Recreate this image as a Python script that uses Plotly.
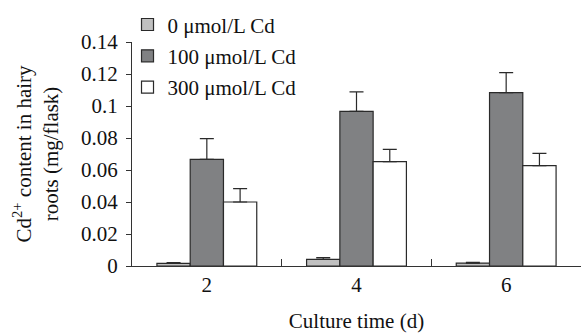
import plotly.graph_objects as go

categories = ["2", "4", "6"]
series_names = ["0 μmol/L Cd", "100 μmol/L Cd", "300 μmol/L Cd"]
values_0 = [0.0017, 0.0042, 0.0018]
values_100 = [0.0667, 0.0967, 0.1083]
values_300 = [0.0400, 0.0652, 0.0627]
err_0 = [0.0005, 0.0010, 0.0005]
err_100 = [0.0129, 0.0121, 0.0125]
err_300 = [0.0084, 0.0077, 0.0077]
y_ticks = [0, 0.02, 0.04, 0.06, 0.08, 0.1, 0.12, 0.14]
y_ticklabels = ["0", "0.02", "0.04", "0.06", "0.08", "0.1", "0.12", "0.14"]

colors = ["#c0c0c0", "#808183", "#ffffff"]
font_family = "Liberation Serif, Times New Roman, serif"
FS = 21

fig = go.Figure()
for i, (name, vals, errs) in enumerate(zip(series_names,
                                           [values_0, values_100, values_300],
                                           [err_0, err_100, err_300])):
    fig.add_trace(go.Bar(
        x=categories, y=vals, name=name, legendgroup=f"g{i}",
        marker=dict(color=colors[i], line=dict(color="#2a2a2a", width=1.2)),
        error_y=dict(type="data", array=errs, arrayminus=[0] * len(errs),
                     symmetric=False, color="#2a2a2a", thickness=1.2, width=7),
    ))

fig.update_layout(
    width=581, height=336,
    margin=dict(l=132, r=0, t=42, b=70),
    plot_bgcolor="white", paper_bgcolor="white",
    barmode="group", bargap=0.333, bargroupgap=0,
    font=dict(family=font_family, size=FS, color="#111111"),
    showlegend=True,
    legend=dict(x=-0.01, y=1.168, xanchor="left", yanchor="top",
                bgcolor="rgba(0,0,0,0)", font=dict(size=FS),
                tracegroupgap=1, itemwidth=30),
    xaxis=dict(
        title=dict(text="Culture time (d)", standoff=17, font=dict(size=FS)),
        showline=True, linecolor="#333333", linewidth=1.2,
        ticks="inside", tickson="boundaries", ticklen=7, tickcolor="#333333",
        tickwidth=1.2, showgrid=False, zeroline=False,
        ticklabelstandoff=0,
    ),
    yaxis=dict(
        title=dict(text="Cd<sup>2+</sup> content in hairy<br>roots (mg/flask)",
                   standoff=16, font=dict(size=FS)),
        range=[0, 0.14], tickvals=y_ticks, ticktext=y_ticklabels,
        showline=True, linecolor="#333333", linewidth=1.2,
        ticks="outside", ticklen=5, tickcolor="#333333", tickwidth=1.2,
        showgrid=False, zeroline=False, ticklabelstandoff=4,
    ),
)

fig.write_html("out.html")
